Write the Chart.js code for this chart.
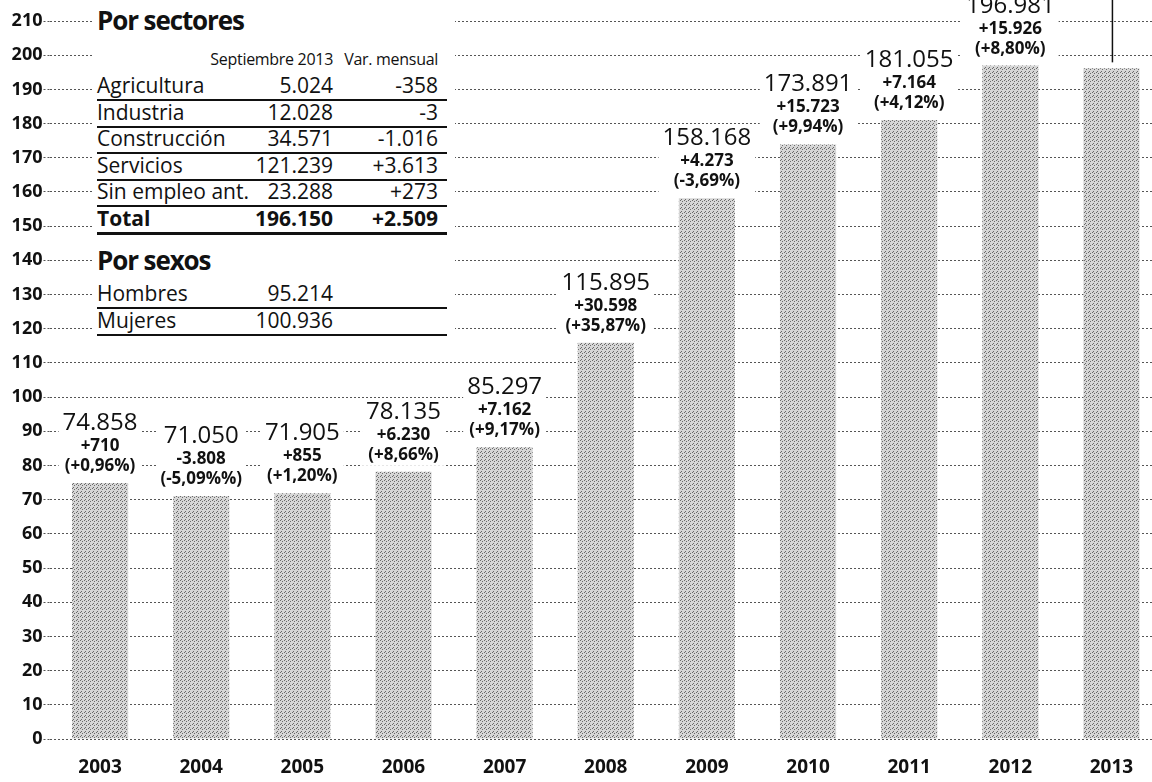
<!DOCTYPE html>
<html>
<head>
<meta charset="utf-8">
<script src="https://cdn.jsdelivr.net/npm/chart.js@4.4.0/dist/chart.umd.min.js"></script>
<style>
  body { margin:0; width:1152px; height:782px; overflow:hidden; background:#fff; font-family:'Open Sans', sans-serif; color:#111; }
  #wrap { position:absolute; left:0; top:0; width:1162px; height:782px; }
  #panel { position:absolute; left:92px; top:0; width:363px; height:340px; background:#fff; }
  .tit { position:absolute; left:5px; font-weight:bold; font-size:26px; line-height:30px; letter-spacing:-1.1px; }
  .cab { position:absolute; left:5px; width:350px; height:18px; font-size:16px; line-height:18px; letter-spacing:-0.3px; }
  .row { position:absolute; left:5px; width:350px; height:25px; border-bottom:2px solid #111; font-size:21px; line-height:25px; }
  .row span, .cab span { position:absolute; top:0; white-space:nowrap; }
  .row span { top:-1px; }
  .c1 { left:0; }
  .c2 { right:114px; }
  .c3 { right:9px; }
  .tot { font-weight:bold; border-bottom-width:3px; }
</style>
</head>
<body>
<div id="wrap"><canvas id="grafico" width="1162" height="782"></canvas></div>

<div id="panel">
  <div class="tit" style="top:5px">Por sectores</div>
  <div class="cab" style="top:50px"><span class="c2">Septiembre 2013</span><span class="c3">Var. mensual</span></div>
  <div id="sectores"></div>
  <div class="tit" style="top:245px">Por sexos</div>
  <div id="sexos"></div>
</div>

<script>
// paro registrado, miles de personas (septiembre de cada año)
var years = ['2003', '2004', '2005', '2006', '2007', '2008', '2009', '2010', '2011', '2012', '2013'];
var paro = [74.858, 71.050, 71.905, 78.135, 85.297, 115.895, 158.168, 173.891, 181.055, 196.981, 196.150];
var variacion = ['+710', '-3.808', '+855', '+6.230', '+7.162', '+30.598', '+4.273', '+15.723', '+7.164', '+15.926', ''];
var porcentaje = ['(+0,96%)', '(-5,09%%)', '(+1,20%)', '(+8,66%)', '(+9,17%)', '(+35,87%)', '(-3,69%)', '(+9,94%)', '(+4,12%)', '(+8,80%)', ''];

// tabla "Por sectores"
var sectores = ['Agricultura', 'Industria', 'Construcción', 'Servicios', 'Sin empleo ant.', 'Total'];
var sectoresSep = ['5.024', '12.028', '34.571', '121.239', '23.288', '196.150'];
var sectoresVar = ['-358', '-3', '-1.016', '+3.613', '+273', '+2.509'];

// tabla "Por sexos"
var sexos = ['Hombres', 'Mujeres'];
var sexosSep = ['95.214', '100.936'];

var yMax = 210;
var yStep = 10;

function fila(lineY, a, b, c, bold) {
    var d = document.createElement('div');
    d.className = 'row' + (bold ? ' tot' : '');
    d.style.top = (lineY - 26) + 'px';
    d.innerHTML = '<span class="c1">' + a + '</span><span class="c2">' + b + '</span><span class="c3">' + c + '</span>';
    return d;
}

var boxS = document.getElementById('sectores');
for (var i = 0; i < sectores.length; i++) {
    boxS.appendChild(fila(100 + 26.6 * i, sectores[i], sectoresSep[i], sectoresVar[i], sectores[i] == 'Total'));
}
var boxX = document.getElementById('sexos');
for (var j = 0; j < sexos.length; j++) {
    boxX.appendChild(fila(308 + 27 * j, sexos[j], sexosSep[j], '', false));
}

Chart.defaults.font.family = "'Open Sans', sans-serif";
Chart.defaults.color = '#111';

// trama punteada de las barras (como el tramado de imprenta)
function trama() {
    var c = document.createElement('canvas');
    c.width = 4; c.height = 4;
    var g = c.getContext('2d');
    g.fillStyle = '#d6d6d6';
    g.fillRect(0, 0, 4, 4);
    g.fillStyle = '#6a6a6a';
    g.fillRect(0, 0, 1, 1);
    g.fillRect(2, 1, 1, 1);
    g.fillRect(1, 3, 1, 1);
    return g.createPattern(c, 'repeat');
}

var etiquetas = {
    id: 'etiquetas',
    afterDraw: function (chart) {
        var ctx = chart.ctx;
        var meta = chart.getDatasetMeta(0);
        ctx.save();
        for (var i = 0; i < meta.data.length; i++) {
            var bar = meta.data[i];
            if (!variacion[i]) {
                // línea vertical sobre la última barra
                ctx.strokeStyle = '#111';
                ctx.lineWidth = 1.5;
                ctx.beginPath();
                ctx.moveTo(bar.x + 1, 0);
                ctx.lineTo(bar.x + 1, bar.y - 6);
                ctx.stroke();
                continue;
            }
            var valor = paro[i].toFixed(3);
            var b3 = bar.y - 12;
            var b2 = b3 - 20;
            var b1 = b2 - 21;
            ctx.font = '24px "Open Sans"';
            var w1 = ctx.measureText(valor).width;
            ctx.font = 'bold 17px "Open Sans"';
            var w2 = Math.max(ctx.measureText(variacion[i]).width, ctx.measureText(porcentaje[i]).width);
            var w = Math.max(w1, w2) + 8;
            ctx.fillStyle = '#fff';
            ctx.fillRect(bar.x - w / 2, b1 - 20, w, b3 - b1 + 26);
            ctx.fillStyle = '#111';
            ctx.textAlign = 'center';
            ctx.textBaseline = 'alphabetic';
            ctx.font = '24px "Open Sans"';
            ctx.fillText(valor, bar.x, b1);
            ctx.font = 'bold 17px "Open Sans"';
            ctx.fillText(variacion[i], bar.x, b2);
            ctx.fillText(porcentaje[i], bar.x, b3);
        }
        ctx.restore();
    }
};

var ctx = document.getElementById('grafico').getContext('2d');
var chart = new Chart(ctx, {
    type: 'bar',
    data: {
        labels: years,
        datasets: [{
            data: paro,
            backgroundColor: trama(),
            borderWidth: 0,
            barPercentage: 0.555,
            categoryPercentage: 1
        }]
    },
    options: {
        responsive: false,
        animation: false,
        layout: { padding: { top: 21, left: 0, right: 0, bottom: 0 } },
        plugins: { legend: { display: false }, tooltip: { enabled: false } },
        scales: {
            x: {
                grid: { display: false, drawTicks: false },
                border: { display: false },
                ticks: { font: { size: 19, weight: 'bold' }, padding: 17 },
                afterFit: function (s) { s.height = 43; }
            },
            y: {
                min: 0,
                max: yMax,
                z: 1,
                grid: { color: '#555', lineWidth: 1, tickLength: 6, tickColor: '#555', tickBorderDash: [2, 2] },
                border: { display: false, dash: [2, 2] },
                ticks: { stepSize: yStep, font: { size: 18, weight: 'bold' }, padding: 1 },
                afterFit: function (s) { s.width = 49.5; }
            }
        }
    },
    plugins: [etiquetas]
});
</script>
</body>
</html>
